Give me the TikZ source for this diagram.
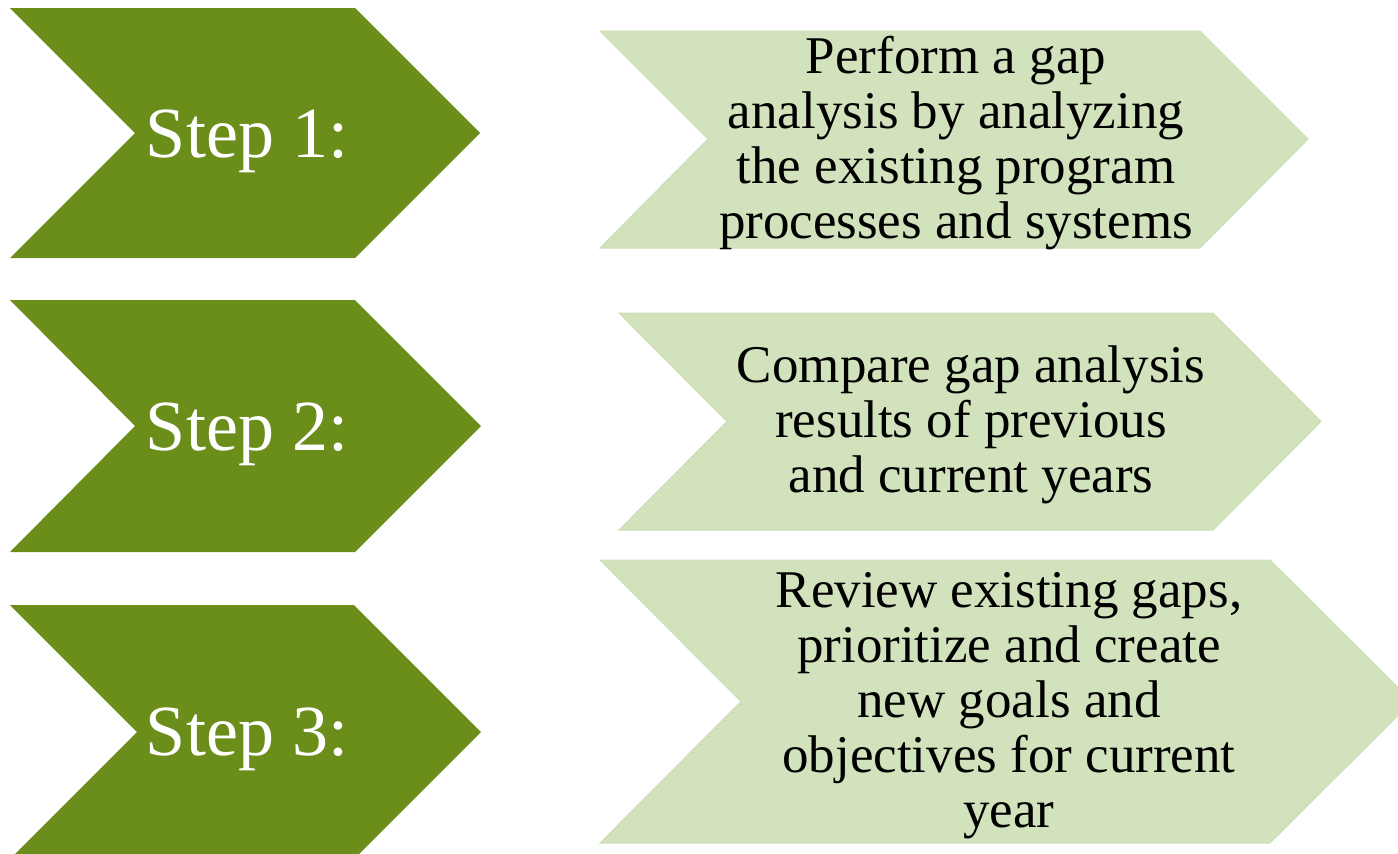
\documentclass[tikz,border=0pt]{standalone}
\usepackage{fontspec}
\setmainfont{Liberation Serif}
\definecolor{darkg}{RGB}{107,142,27}
\definecolor{lightg}{RGB}{209,226,188}
\definecolor{lightedge}{RGB}{203,222,180}
\begin{document}
\begin{tikzpicture}[x=1pt,y=-1pt,
  darkchev/.style={fill=darkg},
  lightchev/.style={fill=lightg,draw=lightedge,line width=1pt,line join=miter},
  steptext/.style={text=white,font=\fontsize{72}{80}\selectfont,anchor=base,inner sep=0pt},
  desctext/.style={text=black,font=\fontsize{53}{55}\selectfont,align=center,anchor=base,inner sep=0pt}]
\useasboundingbox (0,0) rectangle (1398,854);
\clip (0,0) rectangle (1398,854);
% dark chevrons
\fill[darkchev] (10,8) -- (355,8) -- (480,133) -- (355,258) -- (10,258) -- (135,133) -- cycle;
\fill[darkchev] (10,300) -- (355,300) -- (481,426) -- (355,552) -- (10,552) -- (135,426) -- cycle;
\fill[darkchev] (10,605) -- (354,605) -- (481,732) -- (354,859) -- (10,859) -- (137,732) -- cycle;
% light chevrons
\draw[lightchev] (600,31) -- (1200,31) -- (1308,139) -- (1200,248) -- (600,248) -- (708,139) -- cycle;
\draw[lightchev] (619,313) -- (1213,313) -- (1321,421.5) -- (1213,530) -- (619,530) -- (727,421.5) -- cycle;
\draw[lightchev] (600,560) -- (1270,560) -- (1412,701.5) -- (1270,843) -- (600,843) -- (741,701.5) -- cycle;
% step labels
\node[steptext] (s1) at (247,157) {Step 1:};
\node[steptext] (s2) at (247,450) {Step 2:};
\node[steptext] (s3) at (247,755) {Step 3:};
% descriptions (anchor = baseline of last line)
\node[desctext] (d1) at (956,238) {Perform a gap\\analysis by analyzing\\the existing program\\processes and systems};
\node[desctext] (d2) at (971,492) {Compare gap analysis\\results of previous\\and current years};
\node[desctext] (d3) at (1009,827) {Review existing gaps,\\prioritize and create\\new goals and\\objectives for current\\year};
\end{tikzpicture}
\end{document}
